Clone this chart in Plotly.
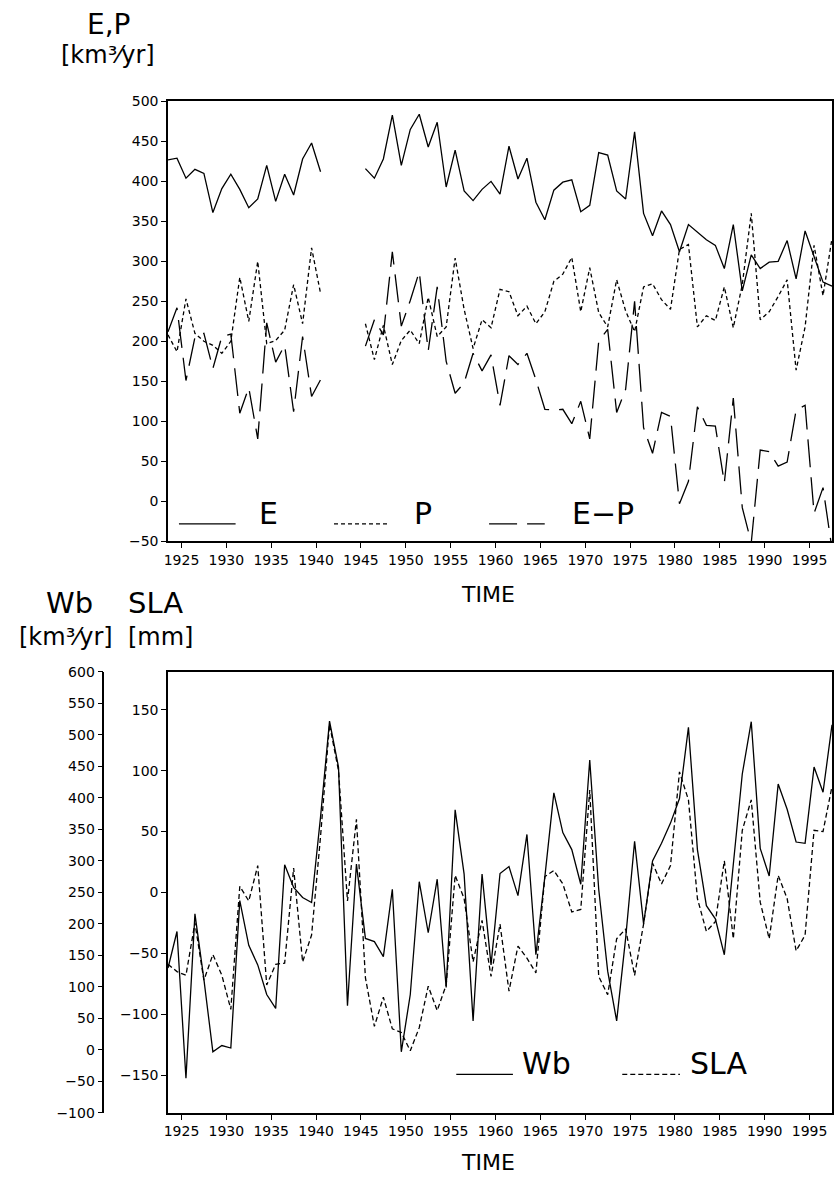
import plotly.graph_objects as go

W, H = 834, 1188

# ---------------- data ----------------
years = list(range(1923, 1998))

E = [427, 429, 404, 415, 410, 361, 391, 409, 390, 367, 378, 420, 375, 409, 383, 428, 448, 412,
     None, None, None, None,
     416, 404, 428, 483, 420, 465, 484, 443, 474, 393,
     439, 388, 376, 390, 400, 384, 444, 403, 429, 374,
     352, 389, 399, 402, 362, 370, 436, 433, 388, 378,
     462, 360, 332, 363, 346, 312, 346, 336, 327, 320,
     291, 346, 263, 308, 291, 299, 300, 326, 278, 338,
     305, 274, 269]

P = [208, 187, 253, 210, 200, 195, 185, 200, 280, 225, 300, 197, 201, 214, 271, 222, 317, 260,
     None, None, None, None,
     222, 177, 220, 171, 201, 214, 197, 255, 206, 218,
     304, 240, 191, 227, 217, 265, 262, 232, 244, 222,
     237, 275, 284, 305, 237, 292, 236, 218, 277, 238,
     212, 268, 272, 252, 240, 315, 321, 218, 232, 226,
     268, 217, 271, 360, 227, 237, 256, 277, 164, 218,
     320, 257, 329]

EmP = [212, 242, 151, 205, 210, 166, 206, 209, 110, 142, 78, 223, 174, 195, 112, 206, 131, 152,
       None, None, None, None,
       194, 227, 208, 312, 219, 251, 287, 188, 268, 175,
       135, 148, 185, 163, 183, 120, 182, 171, 185, 152,
       115, 114, 115, 97, 125, 78, 200, 215, 111, 140,
       250, 92, 60, 111, 106, -3, 25, 118, 95, 94,
       23, 129, -8, -52, 64, 62, 44, 49, 114, 120,
       -15, 17, -60]

Wb = [130, 188, -45, 216, 112, -3, 7, 3, 237, 166,
      135, 88, 66, 294, 258, 242, 234, 370, 522, 449,
      70, 295, 177, 172, 148, 255, -3, 88, 267, 186,
      271, 99, 381, 279, 46, 279, 135, 280, 291, 245,
      342, 151, 275, 408, 345, 318, 263, 460, 255, 125,
      46, 177, 331, 200, 300, 328, 360, 399, 512, 318,
      229, 208, 151, 295, 438, 521, 320, 276, 422, 382,
      330, 328, 449, 409, 516]

SLA = [-59, -65, -68, -25, -72, -51, -68, -96, 5, -7,
       22, -76, -59, -58, 20, -57, -35, 46, 138, 100,
       -7, 60, -70, -110, -86, -112, -115, -130, -111, -77,
       -97, -76, 14, -5, -57, -23, -69, -26, -81, -44,
       -54, -66, 13, 18, 7, -16, -14, 84, -69, -84,
       -38, -30, -68, -26, 24, 7, 22, 99, 76, -5,
       -32, -24, 26, -38, 51, 76, -8, -38, 14, -5,
       -48, -35, 51, 50, 87]

xtick_vals = list(range(1925, 2000, 5))
ep_ticks = list(range(-50, 501, 50))
wb_ticks = list(range(-100, 601, 50))
sla_ticks = list(range(-150, 151, 50))

# annual values are time-stamped at mid-year
t_mid = [y + 0.5 for y in years]

# ---------------- layout helpers ----------------
FONT = "DejaVu Sans"
def px(x):
    return x / W
def py(y):
    return 1 - y / H

X0, X1 = 165, 833
TOP_T, TOP_B = 94.7, 540.5
BOT_T, BOT_B = 673, 1120

DASH_P = "4px,3px"
DASH_EP = "28px,10px"
DASH_SLA = "5px,3px"
LW = 1.3

fig = go.Figure()
fig.add_trace(go.Scatter(x=t_mid, y=E, mode="lines", line=dict(color="black", width=LW),
                         connectgaps=False, xaxis="x", yaxis="y", name="E"))
fig.add_trace(go.Scatter(x=t_mid, y=P, mode="lines", line=dict(color="black", width=LW, dash=DASH_P),
                         connectgaps=False, xaxis="x", yaxis="y", name="P"))
fig.add_trace(go.Scatter(x=t_mid, y=EmP, mode="lines", line=dict(color="black", width=LW, dash=DASH_EP),
                         connectgaps=False, xaxis="x", yaxis="y", name="E-P"))
fig.add_trace(go.Scatter(x=t_mid, y=SLA, mode="lines", line=dict(color="black", width=LW, dash=DASH_SLA),
                         xaxis="x2", yaxis="y2", name="SLA"))
fig.add_trace(go.Scatter(x=t_mid, y=Wb, mode="lines", line=dict(color="black", width=LW),
                         xaxis="x2", yaxis="y3", name="Wb"))

tickfont = dict(family=FONT, size=14, color="black")
common_x = dict(range=[t_mid[0], t_mid[-1]], tickvals=xtick_vals, ticks="outside", ticklen=5,
                tickcolor="black", showline=True, linecolor="black", linewidth=1.5,
                mirror=True, showgrid=False, zeroline=False, tickfont=tickfont)
common_y = dict(ticks="outside", ticklen=5, tickcolor="black", showline=True,
                linecolor="black", linewidth=1.5, showgrid=False, zeroline=False,
                tickfont=tickfont)

fig.update_layout(
    width=W, height=H, margin=dict(l=0, r=0, t=0, b=0),
    paper_bgcolor="white", plot_bgcolor="white", showlegend=False,
    xaxis=dict(domain=[px(X0), px(X1)], anchor="y", **common_x),
    yaxis=dict(domain=[py(TOP_B), py(TOP_T)], anchor="x", range=[-50, 500],
               tickvals=ep_ticks, mirror=True, **common_y),
    xaxis2=dict(domain=[px(X0), px(X1)], anchor="y2", **common_x),
    yaxis2=dict(domain=[py(BOT_B), py(BOT_T)], anchor="x2", range=[-181, 181],
                tickvals=sla_ticks, mirror=True, **common_y),
    yaxis3=dict(overlaying="y2", anchor="free", position=px(100), side="left",
                range=[-100, 600], tickvals=wb_ticks, **common_y),
)

ann = []
def text(x, y, s, size, anchor="center"):
    ann.append(dict(x=px(x), y=py(y), xref="paper", yref="paper", text=s, showarrow=False,
                    xanchor=anchor, yanchor="middle",
                    font=dict(family=FONT, size=size, color="black")))

UNIT = "[km\u00b3\u2044yr]"
# titles
text(105, 17, "E,P", 28)
text(105, 48, UNIT, 24)
text(487, 594, "TIME", 22)
text(66, 603, "Wb", 29)
text(152, 603, "SLA", 29)
text(62, 638, UNIT, 24)
text(157, 638, "[mm]", 24)
text(487, 1170, "TIME", 22)

# legend texts
text(266, 512, "E", 30)
text(422, 512, "P", 30)
text(603, 512, "E\u2212P", 30)
text(519, 1070, "Wb", 30, "left")
text(688, 1070, "SLA", 30, "left")

shapes = []
def seg(x0, x1, y, dash=None):
    shapes.append(dict(type="line", xref="paper", yref="paper", x0=px(x0), x1=px(x1),
                       y0=py(y), y1=py(y),
                       line=dict(color="black", width=LW, dash=dash if dash else "solid")))

seg(176, 233, 523)
seg(332, 388, 523, DASH_P)
seg(488, 544, 523, DASH_EP)
seg(455, 512, 1081)
seg(622, 680, 1081, DASH_SLA)

fig.update_layout(annotations=ann, shapes=shapes)
fig.write_html("out.html")
